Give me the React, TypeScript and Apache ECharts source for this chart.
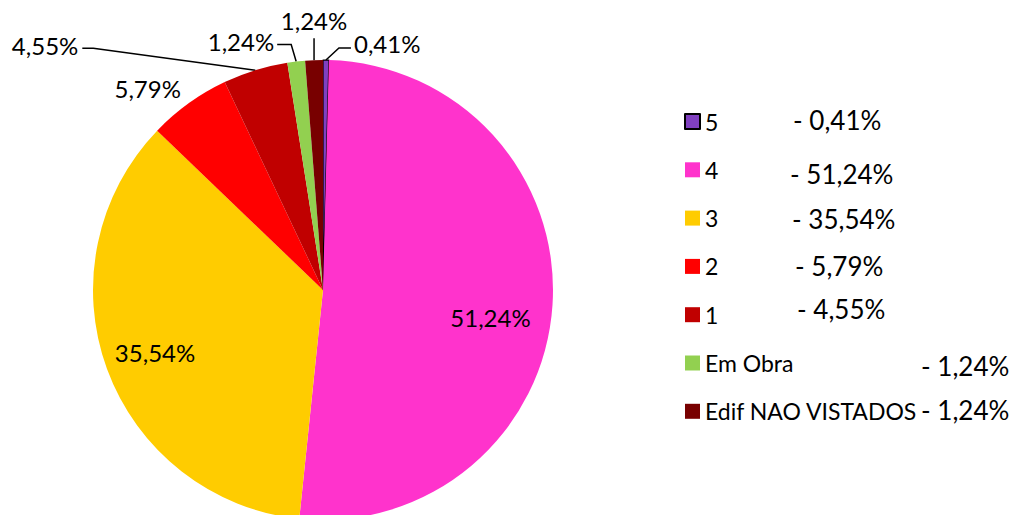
import React, { useEffect, useRef } from "react";
import * as echarts from "echarts";

const categories = ["5", "4", "3", "2", "1", "Em Obra", "Edif NAO VISTADOS"];
const values = [0.41, 51.24, 35.54, 5.79, 4.55, 1.24, 1.24];
const colors = ["#8040C0", "#FF33CC", "#FFCC00", "#FF0000", "#C00000", "#92D050", "#780000"];

const fmt = (v: number) => v.toFixed(2).replace(".", ",") + "%";

// label placement relative to the slice's outer-edge anchor point (from the library)
const labelPlacement: any[] = [
  { dx: 28, dy: -17, align: "left", line: [[13, -12], [25, -12]] },
  { dx: -62, dy: 13, align: "center", line: null },
  { dx: 48, dy: -17, align: "center", line: null },
  { dx: -41, dy: -15, align: "center", line: null },
  { dx: -177, dy: -25, align: "right", line: [[-162, -22], [-173, -22]] },
  { dx: -22, dy: -20, align: "right", line: [[-5, -17], [-19, -17]] },
  { dx: 0, dy: -40, align: "center", line: [[0, -22], [0, -22]] },
];

// positions of the percentage notes beside the legend
const notePos = [
  [793, 122],
  [790, 176],
  [792, 221],
  [795, 268],
  [797, 311],
  [921, 368],
  [921, 412],
];

export default function App() {
  const ref = useRef<HTMLDivElement>(null);
  useEffect(() => {
    if (!ref.current) return;
    const chart = echarts.init(ref.current, undefined, { renderer: "svg" });
    const font = "Lato, 'Open Sans', sans-serif";
    const option: any = {
      animation: false,
      backgroundColor: "#ffffff",
      legend: {
        orient: "vertical",
        left: 679,
        top: 105,
        icon: "rect",
        itemWidth: 15,
        itemHeight: 15,
        itemGap: 25.3,
        selectedMode: false,
        textStyle: { fontFamily: font, fontSize: 23, color: "#000" },
        data: categories,
      },
      graphic: values.map((v, i) => ({
        type: "text",
        left: notePos[i][0],
        top: notePos[i][1] - 15,
        style: { text: "- " + fmt(v), font: `26px ${font}`, fill: "#000" },
      })),
      series: [
        {
          type: "pie",
          center: [323, 290],
          radius: 230,
          startAngle: 90,
          clockwise: true,
          avoidLabelOverlap: false,
          label: {
            show: true,
            position: "outside",
            fontFamily: font,
            fontSize: 24,
            color: "#000",
            formatter: (p: any) => fmt(p.value),
          },
          labelLine: { show: true, lineStyle: { color: "#000", width: 1.5 } },
          labelLayout: (p: any) => {
            const pl = labelPlacement[p.dataIndex];
            const pts = p.labelLinePoints;
            const p0 = pts ? pts[0] : [p.labelRect.x, p.labelRect.y];
            const res: any = {
              x: p0[0] + pl.dx,
              y: p0[1] + pl.dy,
              align: pl.align,
              verticalAlign: "middle",
              hideOverlap: false,
              moveOverlap: null,
            };
            if (pl.line) {
              res.labelLinePoints = [p0, [p0[0] + pl.line[0][0], p0[1] + pl.line[0][1]], [p0[0] + pl.line[1][0], p0[1] + pl.line[1][1]]];
            }
            return res;
          },
          data: categories.map((c, i) => ({
            name: c,
            value: values[i],
            itemStyle: {
              color: colors[i],
              borderColor: i === 0 ? "#000" : colors[i],
              borderWidth: i === 0 ? 1.2 : 0,
            },
            labelLine: { show: !!labelPlacement[i].line },
          })),
        },
      ],
    };
    chart.setOption(option);
    return () => chart.dispose();
  }, []);
  return (
    <div
      ref={ref}
      style={{ position: "absolute", left: 0, top: 0, width: 1013, height: 515 }}
    />
  );
}
